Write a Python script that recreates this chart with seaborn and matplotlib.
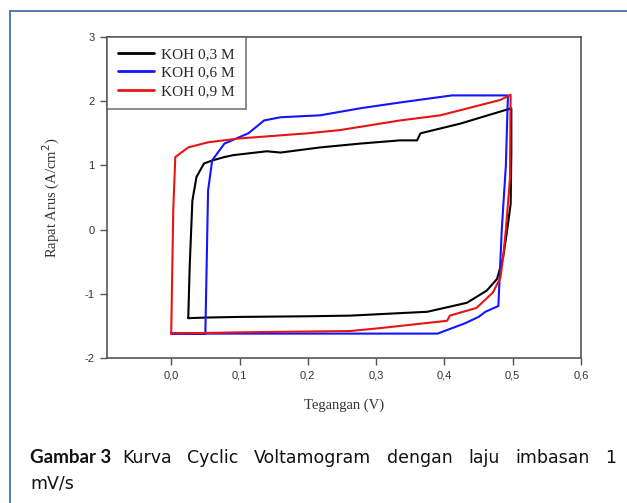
import matplotlib
matplotlib.use("Agg")
import matplotlib.pyplot as plt
import seaborn as sns
import pandas as pd

# KOH 0,3 M: forward sweep (top) then reverse sweep (bottom)
koh03_v = [0.025, 0.027, 0.028, 0.031, 0.037, 0.048, 0.061, 0.078, 0.091, 0.14, 0.16, 0.218,
           0.277, 0.335, 0.36, 0.365, 0.423, 0.498,
           0.498, 0.497, 0.492, 0.486, 0.477, 0.462, 0.433, 0.375, 0.262, 0.2, 0.1, 0.05, 0.025]
koh03_j = [-1.37, -0.6, -0.33, 0.45, 0.82, 1.03, 1.08, 1.13, 1.16, 1.22, 1.2, 1.28,
           1.34, 1.39, 1.39, 1.5, 1.65, 1.89,
           1.2, 0.4, 0.0, -0.43, -0.77, -0.95, -1.14, -1.28, -1.34, -1.35, -1.36, -1.37, -1.38]

# KOH 0,6 M
koh06_v = [0.0, 0.05, 0.052, 0.054, 0.06, 0.078, 0.113, 0.136, 0.16, 0.218, 0.277, 0.335,
           0.411, 0.493, 0.49, 0.484, 0.479, 0.46, 0.45, 0.43, 0.39, 0.3, 0.1, 0.0]
koh06_j = [-1.62, -1.62, -0.5, 0.61, 1.08, 1.34, 1.5, 1.7, 1.75, 1.78, 1.89, 1.98,
           2.09, 2.09, 1.0, 0.0, -1.19, -1.28, -1.36, -1.46, -1.62, -1.62, -1.62, -1.62]

# KOH 0,9 M
koh09_v = [0.0, 0.003, 0.006, 0.025, 0.054, 0.1, 0.2, 0.247, 0.335, 0.394, 0.482, 0.497,
           0.496, 0.49, 0.486, 0.482, 0.471, 0.447, 0.408, 0.404, 0.31, 0.262, 0.1, 0.0]
koh09_j = [-1.62, 0.3, 1.13, 1.28, 1.36, 1.42, 1.5, 1.55, 1.7, 1.78, 2.02, 2.1,
           0.8, 0.0, -0.43, -0.75, -0.98, -1.22, -1.34, -1.42, -1.53, -1.58, -1.6, -1.62]

labels = ["KOH 0,3 M", "KOH 0,6 M", "KOH 0,9 M"]
colors = ["#000000", "#1414ff", "#e81414"]
x_ticks = [0.0, 0.1, 0.2, 0.3, 0.4, 0.5, 0.6]
x_ticklabels = ["0,0", "0,1", "0,2", "0,3", "0,4", "0,5", "0,6"]
y_ticks = [-2, -1, 0, 1, 2, 3]

frames = []
for lab, v, j in zip(labels, [koh03_v, koh06_v, koh09_v], [koh03_j, koh06_j, koh09_j]):
    d = pd.DataFrame({"Tegangan": v, "Rapat": j})
    d["Sampel"] = lab
    frames.append(d)
df = pd.concat(frames, ignore_index=True)

sns.set_style("ticks")
fig = plt.figure(figsize=(6.27, 5.03), dpi=100)
ax = fig.add_axes([107 / 627, 1 - 358 / 503, 474 / 627, 321 / 503])

sns.lineplot(data=df, x="Tegangan", y="Rapat", hue="Sampel", units="Sampel",
             estimator=None, sort=False, palette=dict(zip(labels, colors)),
             linewidth=1.5, ax=ax)

ax.set_xlim(-0.094, 0.6)
ax.set_ylim(-2, 3)
ax.set_xticks(x_ticks)
ax.set_xticklabels(x_ticklabels)
ax.set_yticks(y_ticks)
ax.set_yticklabels([str(t) for t in y_ticks])
ax.tick_params(direction="out", length=5, width=1, colors="#555555", labelsize=8,
               labelcolor="#333333", pad=4)
for t in ax.get_xticklabels() + ax.get_yticklabels():
    t.set_family("Liberation Sans")
for s in ax.spines.values():
    s.set_color("#555555")
    s.set_linewidth(1.2)

serif = {"family": "Liberation Serif", "color": "#333333"}
ax.set_xlabel("Tegangan (V)", fontdict=serif, fontsize=10.5, labelpad=13)
ax.set_ylabel("Rapat Arus (A/cm$^2$)", fontdict=serif, fontsize=10.5, labelpad=16)

leg = ax.legend(loc="upper left", borderaxespad=0, frameon=True, fancybox=False,
                prop={"family": "Liberation Serif", "size": 11}, handlelength=2.35,
                borderpad=0.7, labelspacing=0.3, handletextpad=0.5)
leg.get_frame().set_edgecolor("#555555")
leg.get_frame().set_linewidth(1.2)
for line in leg.get_lines():
    line.set_linewidth(2)

# outer frame (top and left only)
fig.add_artist(plt.Line2D([10 / 627, 1], [1 - 11 / 503, 1 - 11 / 503], color="#4a6fa5",
                          linewidth=1.3, transform=fig.transFigure))
fig.add_artist(plt.Line2D([10 / 627, 10 / 627], [0, 1 - 11 / 503], color="#4a6fa5",
                          linewidth=1.3, transform=fig.transFigure))

# caption, first line justified between x=122 and x=616 px
bold_cap = {"family": "Lato", "size": 13.5, "color": "#111111"}
cap = {"family": "DejaVu Sans", "size": 12.5, "color": "#111111"}
fig.text(30 / 627, 1 - 463 / 503, "Gambar 3", fontdict=bold_cap, fontweight="bold", va="baseline")
words = "Kurva Cyclic Voltamogram dengan laju imbasan 1".split()
renderer = fig.canvas.get_renderer()
texts = [fig.text(0, 1 - 463 / 503, w, fontdict=cap, va="baseline") for w in words]
widths = [t.get_window_extent(renderer).width for t in texts]
gap = (616 - 122 - sum(widths)) / (len(words) - 1)
x = 122
for t, w in zip(texts, widths):
    t.set_x(x / 627)
    x += w + gap
fig.text(30 / 627, 1 - 488 / 503, "mV/s", fontdict=cap, va="baseline")

fig.savefig("out.png", dpi=100)
